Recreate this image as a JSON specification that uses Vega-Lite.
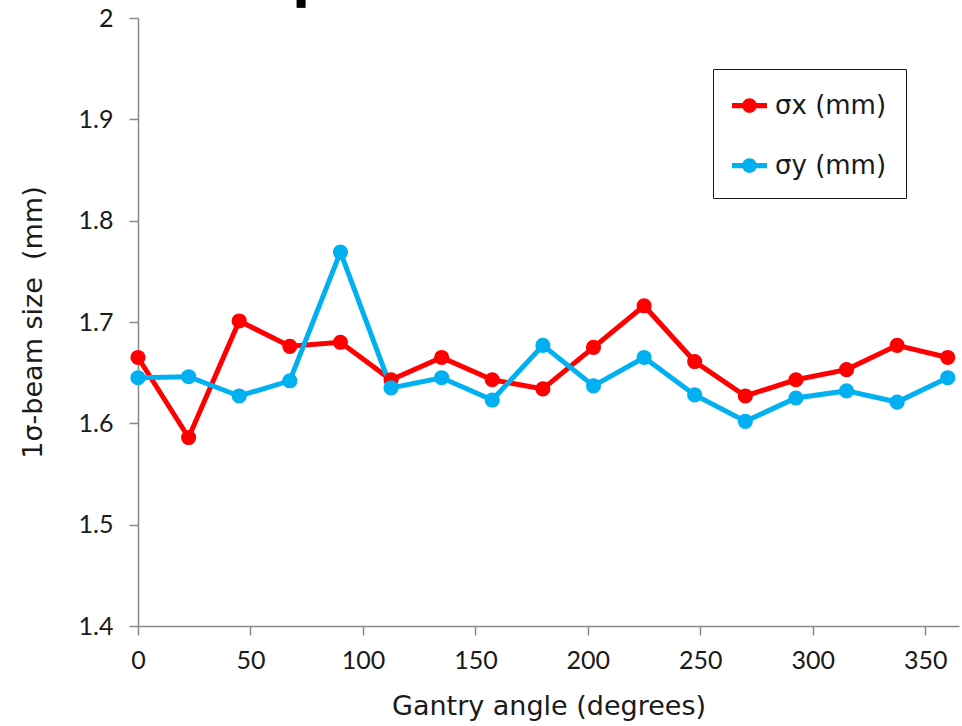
{
  "$schema": "https://vega.github.io/schema/vega-lite/v6.json",
  "width": 821,
  "height": 608,
  "autosize": "none",
  "padding": {"left": 138, "top": 18, "right": 3, "bottom": 100},
  "background": "white",
  "config": {
    "view": {"stroke": null},
    "font": "Lato"
  },
  "datasets": {
    "beam": [
      {"angle": 0, "series": "σx (mm)", "size": 1.665},
      {"angle": 22.5, "series": "σx (mm)", "size": 1.586},
      {"angle": 45, "series": "σx (mm)", "size": 1.701},
      {"angle": 67.5, "series": "σx (mm)", "size": 1.676},
      {"angle": 90, "series": "σx (mm)", "size": 1.680},
      {"angle": 112.5, "series": "σx (mm)", "size": 1.643},
      {"angle": 135, "series": "σx (mm)", "size": 1.665},
      {"angle": 157.5, "series": "σx (mm)", "size": 1.643},
      {"angle": 180, "series": "σx (mm)", "size": 1.634},
      {"angle": 202.5, "series": "σx (mm)", "size": 1.675},
      {"angle": 225, "series": "σx (mm)", "size": 1.716},
      {"angle": 247.5, "series": "σx (mm)", "size": 1.661},
      {"angle": 270, "series": "σx (mm)", "size": 1.627},
      {"angle": 292.5, "series": "σx (mm)", "size": 1.643},
      {"angle": 315, "series": "σx (mm)", "size": 1.653},
      {"angle": 337.5, "series": "σx (mm)", "size": 1.677},
      {"angle": 360, "series": "σx (mm)", "size": 1.665},
      {"angle": 0, "series": "σy (mm)", "size": 1.645},
      {"angle": 22.5, "series": "σy (mm)", "size": 1.646},
      {"angle": 45, "series": "σy (mm)", "size": 1.627},
      {"angle": 67.5, "series": "σy (mm)", "size": 1.642},
      {"angle": 90, "series": "σy (mm)", "size": 1.769},
      {"angle": 112.5, "series": "σy (mm)", "size": 1.635},
      {"angle": 135, "series": "σy (mm)", "size": 1.645},
      {"angle": 157.5, "series": "σy (mm)", "size": 1.623},
      {"angle": 180, "series": "σy (mm)", "size": 1.677},
      {"angle": 202.5, "series": "σy (mm)", "size": 1.637},
      {"angle": 225, "series": "σy (mm)", "size": 1.665},
      {"angle": 247.5, "series": "σy (mm)", "size": 1.628},
      {"angle": 270, "series": "σy (mm)", "size": 1.602},
      {"angle": 292.5, "series": "σy (mm)", "size": 1.625},
      {"angle": 315, "series": "σy (mm)", "size": 1.632},
      {"angle": 337.5, "series": "σy (mm)", "size": 1.621},
      {"angle": 360, "series": "σy (mm)", "size": 1.645}
    ],
    "blob": [
      {"a": 70.5, "b": 74.5, "lo": 2.010, "hi": 2.0185}
    ]
  },
  "layer": [
    {
      "data": {"name": "blob"},
      "mark": {"type": "rect", "color": "black", "clip": false},
      "encoding": {
        "x": {"field": "a", "type": "quantitative", "scale": {"domain": [0, 365]}},
        "x2": {"field": "b"},
        "y": {"field": "lo", "type": "quantitative", "scale": {"domain": [1.4, 2]}},
        "y2": {"field": "hi"}
      }
    },
    {
      "data": {"name": "beam"},
      "mark": {"type": "line", "strokeWidth": 5, "point": {"filled": true, "size": 230, "opacity": 1}},
      "encoding": {
        "x": {
          "field": "angle",
          "type": "quantitative",
          "scale": {"domain": [0, 365], "nice": false, "zero": false},
          "axis": {
            "values": [0, 50, 100, 150, 200, 250, 300, 350],
            "format": "d",
            "labelFlush": false,
            "title": "Gantry angle (degrees)",
            "titleFont": "DejaVu Sans",
            "titleFontSize": 27,
            "titleFontWeight": "normal",
            "titleColor": "#1a1a1a",
            "titlePadding": 20,
            "labelFontSize": 25,
            "labelColor": "#1a1a1a",
            "labelPadding": 13,
            "grid": false,
            "domainColor": "#898989",
            "domainWidth": 1.5,
            "tickColor": "#898989",
            "tickWidth": 1.5,
            "tickSize": 9
          }
        },
        "y": {
          "field": "size",
          "type": "quantitative",
          "scale": {"domain": [1.4, 2], "nice": false, "zero": false},
          "axis": {
            "values": [1.4, 1.5, 1.6, 1.7, 1.8, 1.9, 2],
            "format": "~g",
            "labelFlush": false,
            "title": "1σ-beam size\u00a0\u00a0(mm)",
            "titleFont": "DejaVu Sans",
            "titleFontSize": 27,
            "titleFontWeight": "normal",
            "titleColor": "#1a1a1a",
            "titlePadding": 31,
            "labelFontSize": 25,
            "labelColor": "#1a1a1a",
            "labelPadding": 16,
            "grid": false,
            "domainColor": "#898989",
            "domainWidth": 1.5,
            "tickColor": "#898989",
            "tickWidth": 1.5,
            "tickSize": 9
          }
        },
        "color": {
          "field": "series",
          "type": "nominal",
          "scale": {"domain": ["σx (mm)", "σy (mm)"], "range": ["#FF0000", "#00B0F0"]},
          "legend": {
            "title": null,
            "orient": "none",
            "legendX": 575,
            "legendY": 51,
            "padding": 19,
            "strokeColor": "#1a1a1a",
            "fillColor": "white",
            "cornerRadius": 0,
            "symbolType": "M -1 -0.15 H 1 V 0.15 H -1 Z M 0.42 0 A 0.42 0.42 0 1 1 -0.42 0 A 0.42 0.42 0 1 1 0.42 0 Z",
            "symbolSize": 1225,
            "symbolStrokeWidth": 0,
            "labelFont": "DejaVu Sans",
            "labelFontSize": 26,
            "labelColor": "#1a1a1a",
            "labelOffset": 8,
            "rowPadding": 29,
            "labelLimit": 300
          }
        }
      }
    }
  ]
}
